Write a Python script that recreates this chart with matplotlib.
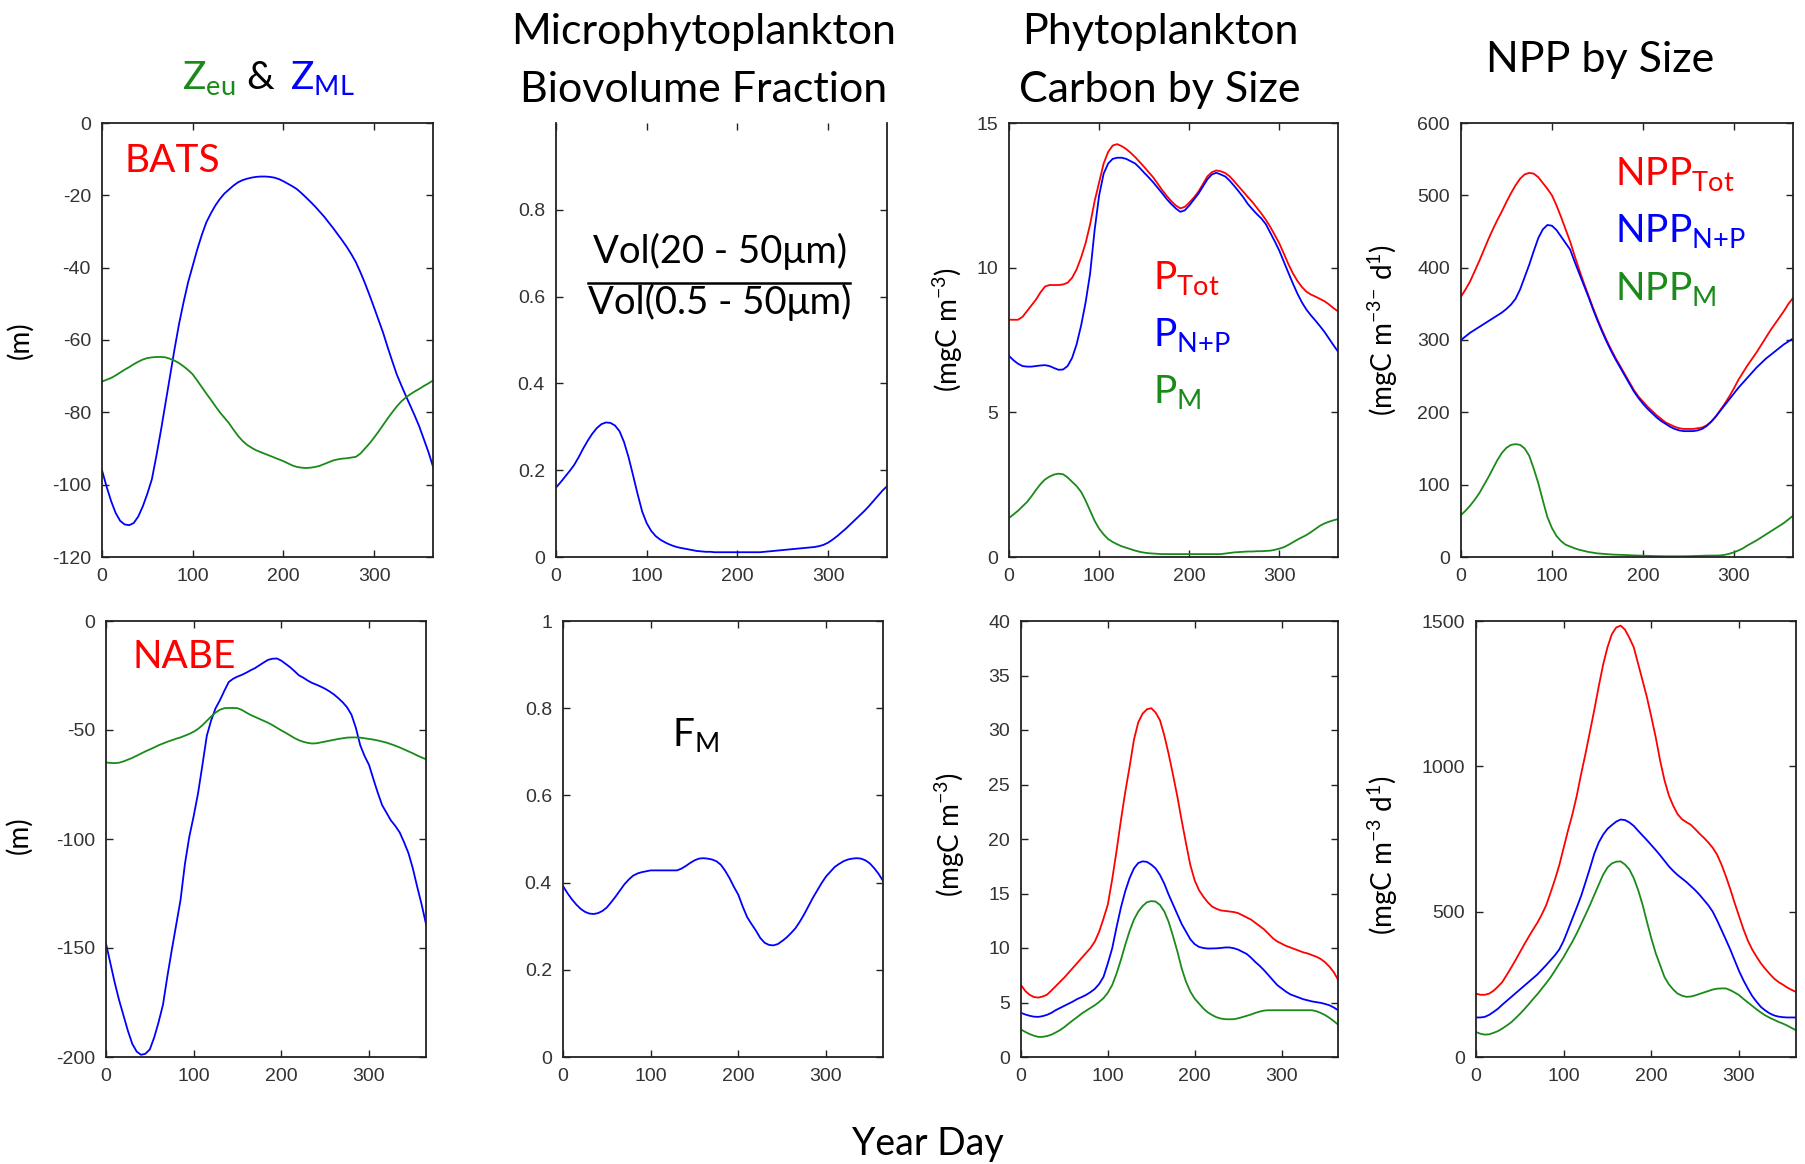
import matplotlib
matplotlib.use("Agg")
import matplotlib.pyplot as plt
from matplotlib.ticker import FuncFormatter
from matplotlib.lines import Line2D

plt.rcParams["font.family"] = ["Lato", "DejaVu Sans"]
plt.rcParams["mathtext.fontset"] = "custom"
plt.rcParams["mathtext.rm"] = "Lato"
plt.rcParams["mathtext.it"] = "Lato:italic"
plt.rcParams["mathtext.bf"] = "Lato:bold"

RED = "#ff0000"
BLUE = "#0000ff"
GREEN = "#1a8a1a"

# year day, every 5 days
day = list(range(0, 365, 5)) + [365]

# BATS
bats_zml = [-96, -100.5, -104.5, -107.8, -110, -111, -111.2, -110.6, -108.8, -106,
            -102.5, -98.5, -92, -85, -77.5, -70, -62.5, -55.5, -49.5, -44,
            -39.5, -35, -31, -27.5, -25, -22.8, -21, -19.5, -18.4, -17.3,
            -16.4, -15.8, -15.4, -15.1, -14.9, -14.8, -14.8, -14.9, -15.1, -15.5,
            -16.1, -16.8, -17.5, -18.3, -19.4, -20.6, -21.8, -23.1, -24.5, -25.9,
            -27.5, -29.1, -30.8, -32.5, -34.3, -36.3, -38.5, -41.3, -44.3, -47.6,
            -51, -54.5, -58, -62, -65.8, -69.5, -72.5, -75.4, -78.2, -81,
            -84, -87.5, -91, -95]
bats_zeu = [-71.5, -71, -70.5, -69.8, -69, -68.2, -67.5, -66.7, -66, -65.4,
            -65, -64.8, -64.7, -64.7, -64.8, -65.2, -65.7, -66.4, -67.3, -68.3,
            -69.5, -71.2, -73, -74.8, -76.5, -78.3, -80, -81.5, -83, -84.8,
            -86.5, -87.9, -89, -89.8, -90.5, -91, -91.5, -92, -92.5, -93,
            -93.5, -94.1, -94.7, -95.1, -95.3, -95.4, -95.3, -95.1, -94.8, -94.3,
            -93.8, -93.3, -93, -92.8, -92.7, -92.5, -92.3, -91.4, -90, -88.6,
            -87, -85.3, -83.5, -81.7, -80, -78.4, -77, -75.9, -75, -74.2,
            -73.5, -72.7, -72, -71.2]
bats_fm = [0.16, 0.172, 0.185, 0.198, 0.212, 0.23, 0.25, 0.268, 0.284, 0.297,
           0.306, 0.31, 0.309, 0.303, 0.29, 0.265, 0.23, 0.188, 0.145, 0.105,
           0.078, 0.06, 0.048, 0.04, 0.034, 0.029, 0.025, 0.022, 0.02, 0.018,
           0.016, 0.014, 0.013, 0.012, 0.012, 0.011, 0.011, 0.011, 0.011, 0.011,
           0.011, 0.011, 0.011, 0.011, 0.011, 0.011, 0.012, 0.013, 0.014, 0.015,
           0.016, 0.017, 0.018, 0.019, 0.02, 0.021, 0.022, 0.023, 0.025, 0.028,
           0.033, 0.04, 0.048, 0.057, 0.066, 0.076, 0.086, 0.096, 0.106, 0.117,
           0.129, 0.141, 0.153, 0.163]
bats_ptot = [8.2, 8.2, 8.2, 8.3, 8.5, 8.7, 8.9, 9.15, 9.35, 9.4,
             9.4, 9.4, 9.42, 9.48, 9.65, 9.94, 10.35, 10.85, 11.5, 12.3,
             12.95, 13.6, 14.0, 14.22, 14.27, 14.2, 14.1, 13.97, 13.82, 13.65,
             13.48, 13.3, 13.12, 12.9, 12.68, 12.48, 12.3, 12.15, 12.05, 12.1,
             12.25, 12.42, 12.62, 12.88, 13.15, 13.3, 13.36, 13.33, 13.27, 13.15,
             12.98, 12.8, 12.62, 12.44, 12.27, 12.07, 11.87, 11.65, 11.4, 11.12,
             10.83, 10.48, 10.12, 9.8, 9.54, 9.33, 9.17, 9.07, 9.0, 8.92,
             8.84, 8.73, 8.6, 8.49]
bats_pnp = [6.95, 6.8, 6.68, 6.6, 6.58, 6.58, 6.6, 6.62, 6.63, 6.6,
            6.53, 6.47, 6.48, 6.6, 6.88, 7.35, 8.0, 8.8, 9.8, 11.3,
            12.5, 13.25, 13.6, 13.76, 13.8, 13.8, 13.76, 13.68, 13.6, 13.45,
            13.28, 13.12, 12.95, 12.76, 12.57, 12.37, 12.2, 12.05, 11.93, 11.98,
            12.15, 12.35, 12.55, 12.8, 13.05, 13.22, 13.28, 13.22, 13.15, 13.0,
            12.82, 12.63, 12.43, 12.2, 12.02, 11.85, 11.7, 11.5, 11.2, 10.9,
            10.58, 10.2, 9.82, 9.45, 9.1, 8.8, 8.55, 8.35, 8.17, 7.98,
            7.78, 7.55, 7.32, 7.1]
bats_pm = [1.35, 1.47, 1.6, 1.75, 1.9, 2.1, 2.32, 2.52, 2.68, 2.78,
           2.85, 2.88, 2.86, 2.75, 2.6, 2.45, 2.25, 1.95, 1.6, 1.25,
           0.98, 0.78, 0.62, 0.52, 0.44, 0.37, 0.32, 0.27, 0.22, 0.18,
           0.15, 0.13, 0.12, 0.11, 0.1, 0.1, 0.1, 0.1, 0.1, 0.1,
           0.1, 0.1, 0.1, 0.1, 0.1, 0.1, 0.1, 0.1, 0.12, 0.14,
           0.16, 0.17, 0.18, 0.19, 0.19, 0.2, 0.2, 0.21, 0.22, 0.25,
           0.29, 0.34, 0.42, 0.51, 0.6, 0.68, 0.76, 0.86, 0.97, 1.08,
           1.16, 1.22, 1.27, 1.31]
bats_npptot = [360, 370, 381, 395, 409, 424, 439, 453, 466, 478,
               491, 503, 514, 523, 529, 531, 530, 525, 517, 509,
               500, 486, 470, 453, 436, 416, 397, 379, 362, 345,
               329, 314, 300, 287, 275, 264, 253, 242, 231, 222,
               215, 208, 202, 196, 191, 186, 183, 180, 178, 177,
               177, 177, 178, 179, 182, 187, 194, 203, 212, 222,
               233, 245, 255, 265, 274, 283, 293, 303, 313, 322,
               331, 340, 350, 358]
bats_nppnp = [300, 305, 310, 314, 318, 322, 326, 330, 334, 338,
              343, 349, 357, 370, 387, 404, 423, 441, 453, 459,
              458, 452, 443, 434, 425, 408, 392, 376, 360, 343,
              327, 312, 298, 285, 273, 262, 251, 240, 229, 220,
              212, 205, 199, 193, 188, 184, 180, 177, 175, 174,
              174, 174, 175, 177, 181, 187, 194, 202, 210, 218,
              226, 234, 241, 248, 255, 262, 268, 274, 279, 284,
              289, 294, 298, 302]
bats_nppm = [58, 64, 71, 79, 88, 99, 110, 122, 134, 144,
             151, 155, 156, 155, 150, 140, 122, 102, 78, 55,
             40, 29, 22, 17, 14.5, 12, 10, 8.5, 7, 6,
             5, 4.5, 4, 3.5, 3.2, 3, 2.8, 2.5, 2.2, 2,
             1.8, 1.6, 1.4, 1.2, 1.1, 1, 1, 1, 1, 1,
             1.1, 1.3, 1.5, 1.7, 1.9, 2, 2, 2.2, 3, 4.5,
             6.5, 9, 12, 16, 19.5, 23, 27, 31, 35, 39,
             43, 47, 52, 57]

# NABE
nabe_zml = [-148, -157, -166, -174, -181, -188, -194, -197.5, -199, -198.5,
            -196.5, -191, -184, -176, -163, -151, -139.5, -128, -111.5, -99,
            -89.5, -79, -66, -52.6, -45.5, -40, -36.3, -32, -28, -26.5,
            -25.5, -24.7, -23.7, -22.6, -21.6, -20.3, -19, -17.8, -17.3, -17.2,
            -18.2, -19.7, -21.2, -23, -24.9, -26, -27.3, -28.4, -29.2, -30.1,
            -31.1, -32.3, -33.7, -35.4, -37.3, -39.6, -43, -49, -57, -62,
            -66, -72.5, -78.8, -84.5, -88, -91.5, -94, -97, -101.5, -106.5,
            -113.5, -122, -130, -139]
nabe_zeu = [-64.9, -65.1, -65.2, -65.0, -64.4, -63.6, -62.8, -61.8, -60.8, -59.8,
            -58.9, -58, -57, -56.2, -55.4, -54.7, -54, -53.4, -52.6, -51.8,
            -50.8, -49.5, -47.8, -45.8, -43.8, -42, -40.7, -40, -39.9, -39.9,
            -40, -40.8, -42, -43.1, -44, -44.9, -45.8, -46.7, -47.8, -49,
            -50.2, -51.3, -52.5, -53.7, -54.7, -55.4, -55.9, -56.2, -56.1, -55.7,
            -55.3, -54.9, -54.5, -54.1, -53.8, -53.5, -53.4, -53.4, -53.5, -53.8,
            -54.1, -54.4, -54.8, -55.3, -55.8, -56.5, -57.2, -58, -58.9, -59.8,
            -60.7, -61.7, -62.6, -63.4]
nabe_fm = [0.392, 0.376, 0.362, 0.35, 0.34, 0.333, 0.329, 0.328, 0.33, 0.335,
           0.343, 0.355, 0.368, 0.382, 0.396, 0.407, 0.416, 0.421, 0.424, 0.426,
           0.428, 0.428, 0.428, 0.428, 0.428, 0.428, 0.428, 0.432, 0.438, 0.445,
           0.451, 0.455, 0.456, 0.455, 0.453, 0.449, 0.441, 0.427, 0.41, 0.39,
           0.372, 0.345, 0.321, 0.305, 0.29, 0.273, 0.262, 0.257, 0.256, 0.259,
           0.266, 0.274, 0.284, 0.295, 0.31, 0.327, 0.346, 0.365, 0.382, 0.399,
           0.414, 0.425, 0.436, 0.443, 0.449, 0.453, 0.455, 0.456, 0.455, 0.451,
           0.444, 0.433, 0.42, 0.404]
nabe_ptot = [6.6, 6.05, 5.7, 5.5, 5.45, 5.55, 5.72, 6.1, 6.5, 6.9,
             7.3, 7.75, 8.2, 8.65, 9.1, 9.55, 10.0, 10.6, 11.5, 12.7,
             14.0, 16.3, 18.9, 21.7, 24.3, 26.6, 29.1, 30.7, 31.5, 31.9,
             32.0, 31.6, 30.9, 29.5, 27.8, 25.9, 23.9, 21.7, 19.6, 17.6,
             16.2, 15.3, 14.7, 14.2, 13.8, 13.6, 13.45, 13.4, 13.35, 13.3,
             13.2, 13.0, 12.8, 12.6, 12.3, 12.0, 11.7, 11.3, 10.9, 10.6,
             10.4, 10.2, 10.05, 9.9, 9.75, 9.6, 9.5, 9.35, 9.2, 9.0,
             8.7, 8.3, 7.8, 7.1]
nabe_pnp = [4.05, 3.9, 3.78, 3.7, 3.68, 3.75, 3.87, 4.05, 4.3, 4.5,
            4.7, 4.9, 5.1, 5.33, 5.5, 5.7, 5.95, 6.25, 6.7, 7.35,
            8.6, 9.97, 11.9, 13.7, 15.2, 16.4, 17.3, 17.8, 17.95, 17.9,
            17.65, 17.3, 16.7, 15.9, 14.9, 14.0, 13.1, 12.2, 11.5, 10.8,
            10.35, 10.1, 10.0, 9.95, 9.96, 9.97, 10.0, 10.05, 10.05, 9.98,
            9.85, 9.65, 9.45, 9.1, 8.7, 8.35, 7.95, 7.5, 7.05, 6.6,
            6.3, 6.0, 5.75, 5.6, 5.45, 5.3, 5.2, 5.1, 5.03, 4.97,
            4.87, 4.75, 4.55, 4.3]
nabe_pm = [2.52, 2.3, 2.1, 1.95, 1.84, 1.85, 1.92, 2.05, 2.25, 2.47,
           2.75, 3.07, 3.38, 3.68, 3.99, 4.25, 4.5, 4.75, 5.05, 5.4,
           5.9, 6.6, 7.65, 8.9, 10.28, 11.55, 12.6, 13.34, 13.85, 14.2,
           14.3, 14.26, 13.95, 13.35, 12.4, 11.1, 9.7, 8.13, 6.9, 6.0,
           5.35, 4.9, 4.45, 4.1, 3.85, 3.65, 3.53, 3.47, 3.46, 3.47,
           3.55, 3.66, 3.78, 3.9, 4.05, 4.17, 4.26, 4.29, 4.29, 4.29,
           4.29, 4.29, 4.29, 4.29, 4.29, 4.29, 4.29, 4.29, 4.2, 4.05,
           3.85, 3.6, 3.3, 2.98]
nabe_npptot = [218, 214, 214, 218, 228, 242, 258, 282, 307, 333,
               360, 387, 413, 438, 462, 490, 522, 565, 610, 660,
               720, 780, 835, 900, 975, 1045, 1120, 1195, 1275, 1350,
               1410, 1455, 1478, 1484, 1470, 1442, 1409, 1352, 1295, 1237,
               1170, 1100, 1020, 952, 900, 864, 835, 818, 808, 799,
               784, 768, 754, 738, 720, 696, 662, 622, 578, 530,
               485, 440, 401, 370, 345, 322, 303, 286, 270, 258,
               249, 239, 231, 224]
nabe_nppnp = [136, 136, 138, 145, 155, 166, 180, 193, 206, 219,
              232, 245, 258, 271, 284, 300, 316, 333, 350, 370,
              400, 438, 477, 515, 555, 602, 650, 700, 738, 765,
              785, 798, 810, 817, 815, 807, 795, 778, 762, 746,
              729, 712, 694, 675, 656, 640, 626, 614, 602, 588,
              574, 558, 540, 522, 500, 470, 437, 404, 370, 333,
              296, 264, 236, 210, 190, 172, 160, 150, 143, 139,
              137, 136, 136, 136]
nabe_nppm = [86, 80, 77, 78, 83, 89, 98, 108, 119, 133,
             148, 164, 181, 199, 216, 235, 254, 274, 297, 321,
             344, 371, 397, 426, 458, 490, 523, 558, 593, 627,
             652, 666, 672, 673, 662, 645, 615, 574, 524, 465,
             408, 357, 316, 275, 250, 232, 218, 211, 207, 208,
             212, 217, 222, 227, 232, 235, 236, 236, 230, 222,
             213, 200, 188, 176, 164, 153, 143, 135, 128, 121,
             115, 108, 100, 92]

W, H = 1806, 1164
fig = plt.figure(figsize=(W / 100, H / 100), dpi=100)


def fx(x):
    return x / W


def fy(y):
    return 1 - y / H


def make_ax(l, r, t, b):
    ax = fig.add_axes([fx(l), fy(b), (r - l) / W, (b - t) / H])
    ax.set_xlim(0, 365)
    ax.set_xticks([0, 100, 200, 300])
    ax.tick_params(direction="in", top=True, right=True, length=5, width=1,
                   labelsize=14, pad=8, colors="#222222", labelcolor="#333333")
    ax.xaxis.set_major_formatter(FuncFormatter(lambda v, p: "%g" % v))
    ax.yaxis.set_major_formatter(FuncFormatter(lambda v, p: "%g" % v))
    for s in ax.spines.values():
        s.set_linewidth(1.3)
        s.set_color("#222222")
    return ax


def finish_ticks(ax):
    for lab in ax.get_xticklabels() + ax.get_yticklabels():
        lab.set_family("Liberation Sans")


def ylab(x, y, txt):
    fig.text(fx(x), fy(y), txt, rotation=90, ha="center", va="center", fontsize=20)


lw = 1.3
top_t, top_b = 123, 557
bot_t, bot_b = 621, 1057

# ---- row 1: BATS ----
ax1 = make_ax(102, 433, top_t, top_b)
ax1.plot(day, bats_zml, color=BLUE, lw=lw)
ax1.plot(day, bats_zeu, color=GREEN, lw=lw)
ax1.set_ylim(-120, 0)
ax1.set_yticks(range(-120, 1, 20))
ylab(20, 340, "(m)")
fig.text(fx(125), fy(172), "BATS", color=RED, fontsize=28)

ax2 = make_ax(556, 887, top_t, top_b)
ax2.plot(day, bats_fm, color=BLUE, lw=lw)
ax2.set_ylim(0, 1)
ax2.set_yticks([0, 0.2, 0.4, 0.6, 0.8])
ax2.spines["top"].set_visible(False)
fig.text(fx(720), fy(263), "Vol(20 - 50\u03bcm)", ha="center", fontsize=27.5)
fig.add_artist(Line2D([fx(588), fx(850)], [fy(283), fy(283)], color="black", lw=1.8))
fig.text(fx(720), fy(314), "Vol(0.5 - 50\u03bcm)", ha="center", fontsize=27.5)

ax3 = make_ax(1009, 1338, top_t, top_b)
ax3.plot(day, bats_ptot, color=RED, lw=lw)
ax3.plot(day, bats_pnp, color=BLUE, lw=lw)
ax3.plot(day, bats_pm, color=GREEN, lw=lw)
ax3.set_ylim(0, 15)
ax3.set_yticks([0, 5, 10, 15])
ylab(948, 330, r"(mgC m$^{\mathregular{-3}}$)")
fig.text(fx(1153), fy(289), r"P$_{\mathregular{Tot}}$", color=RED, fontsize=28)
fig.text(fx(1153), fy(346), r"P$_{\mathregular{N{+}P}}$", color=BLUE, fontsize=28)
fig.text(fx(1153), fy(403), r"P$_{\mathregular{M}}$", color=GREEN, fontsize=28)

ax4 = make_ax(1461, 1793, top_t, top_b)
ax4.plot(day, bats_npptot, color=RED, lw=lw)
ax4.plot(day, bats_nppnp, color=BLUE, lw=lw)
ax4.plot(day, bats_nppm, color=GREEN, lw=lw)
ax4.set_ylim(0, 600)
ax4.set_yticks(range(0, 601, 100))
ylab(1383, 330, r"(mgC m$^{\mathregular{-3}}$$^{\mathregular{-}}$ d$^{\mathregular{1}}$)")
fig.text(fx(1615), fy(185), r"NPP$_{\mathregular{Tot}}$", color=RED, fontsize=28)
fig.text(fx(1615), fy(242), r"NPP$_{\mathregular{N{+}P}}$", color=BLUE, fontsize=28)
fig.text(fx(1615), fy(300), r"NPP$_{\mathregular{M}}$", color=GREEN, fontsize=28)

# ---- row 2: NABE ----
ax5 = make_ax(106, 426, bot_t, bot_b)
ax5.plot(day, nabe_zml, color=BLUE, lw=lw)
ax5.plot(day, nabe_zeu, color=GREEN, lw=lw)
ax5.set_ylim(-200, 0)
ax5.set_yticks(range(-200, 1, 50))
ylab(19, 835, "(m)")
fig.text(fx(132), fy(668), "NABE", color=RED, fontsize=28)

ax6 = make_ax(563, 883, bot_t, bot_b)
ax6.plot(day, nabe_fm, color=BLUE, lw=lw)
ax6.set_ylim(0, 1)
ax6.set_yticks([0, 0.2, 0.4, 0.6, 0.8, 1])
fig.text(fx(672), fy(746), r"F$_{\mathregular{M}}$", fontsize=28)

ax7 = make_ax(1021, 1338, bot_t, bot_b)
ax7.plot(day, nabe_ptot, color=RED, lw=lw)
ax7.plot(day, nabe_pnp, color=BLUE, lw=lw)
ax7.plot(day, nabe_pm, color=GREEN, lw=lw)
ax7.set_ylim(0, 40)
ax7.set_yticks(range(0, 41, 5))
ylab(950, 835, r"(mgC m$^{\mathregular{-3}}$)")

ax8 = make_ax(1476, 1796, bot_t, bot_b)
ax8.plot(day, nabe_npptot, color=RED, lw=lw)
ax8.plot(day, nabe_nppnp, color=BLUE, lw=lw)
ax8.plot(day, nabe_nppm, color=GREEN, lw=lw)
ax8.set_ylim(0, 1500)
ax8.set_yticks([0, 500, 1000, 1500])
ylab(1383, 855, r"(mgC m$^{\mathregular{-3}}$ d$^{\mathregular{1}}$)")

for a in (ax1, ax2, ax3, ax4, ax5, ax6, ax7, ax8):
    finish_ticks(a)

# ---- column titles ----
fig.text(fx(182), fy(89), r"Z$_{\mathregular{eu}}$", color=GREEN, fontsize=28)
fig.text(fx(246), fy(89), "&", color="black", fontsize=28)
fig.text(fx(290), fy(89), r"Z$_{\mathregular{ML}}$", color=BLUE, fontsize=28)
fig.text(fx(704), fy(44), "Microphytoplankton", ha="center", fontsize=31)
fig.text(fx(704), fy(102), "Biovolume Fraction", ha="center", fontsize=31)
fig.text(fx(1160), fy(44), "Phytoplankton", ha="center", fontsize=31)
fig.text(fx(1160), fy(102), "Carbon by Size", ha="center", fontsize=31)
fig.text(fx(1600), fy(72), "NPP by Size", ha="center", fontsize=31)

fig.text(fx(928), fy(1155), "Year Day", ha="center", fontsize=27)

fig.savefig("out.png", dpi=100)
